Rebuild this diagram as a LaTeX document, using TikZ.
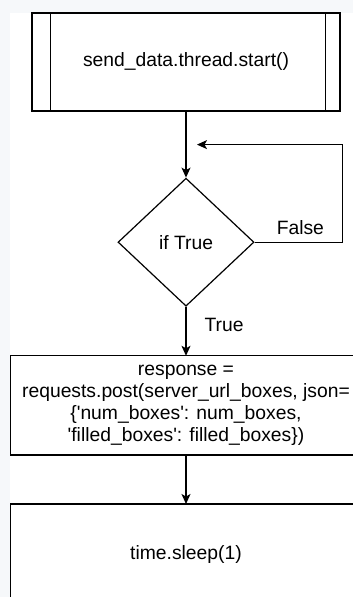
\documentclass[tikz,border=0pt]{standalone}
\usepackage{fontspec}
\setmainfont{Liberation Sans}[Ligatures=TeXOff]
\usetikzlibrary{shapes.geometric, arrows.meta, positioning}
\definecolor{pagebg}{RGB}{246,248,250}
\tikzstyle{subprocess} = [rectangle, minimum width=308pt, minimum height=98pt, text centered, draw=black, fill=white]
\tikzstyle{decision} = [diamond, aspect=1.06, minimum width=136pt, minimum height=128pt, inner sep=0pt, text centered, draw=black, fill=white]
\tikzstyle{process} = [rectangle, minimum width=349pt, minimum height=98pt, text centered, align=center, fill=white]
\tikzstyle{arrow} = [line width=1.2pt, -{Stealth[length=10pt, width=9pt, inset=2.5pt]}]
\tikzstyle{branch} = [inner sep=0pt]

\begin{document}
\begin{tikzpicture}[line width=1.2pt, font=\fontsize{19.3}{22}\selectfont]
	\useasboundingbox (-186pt,62pt) rectangle (167pt,-535pt);
	\fill [pagebg] (-190pt,66pt) rectangle (200pt,-540pt);
	\fill [white] (-176pt,49pt) rectangle (200pt,-540pt);
	\node (start) [subprocess] {send\_data.thread.start()};
	\draw ([xshift=19pt]start.north west) -- ([xshift=19pt]start.south west);
	\draw ([xshift=-15pt]start.north east) -- ([xshift=-15pt]start.south east);
		\node (check) [decision, below=66pt of start] {if True};
		\node (post) [process, below=49pt of check] {response =\\
			requests.post(server\_url\_boxes, json=\\
			\{'num\_boxes': num\_boxes,\\
			'filled\_boxes': filled\_boxes\})};
		\node (sleep) [process, below=49pt of post, minimum height=100pt] {time.sleep(1)};
		\coordinate [below=33pt of start, xshift=11pt] (rejoin);
	% the two lower boxes run on past the right edge
	\draw ([xshift=40pt]post.north east) -- (post.north west) -- (post.south west) -- ([xshift=40pt]post.south east);
	\draw ([xshift=40pt]sleep.north east) -- (sleep.north west) -- (sleep.south west) -- ([xshift=40pt]sleep.south east);
	\draw [arrow] (start) -- (check);
	\draw [arrow] (check) -- node[branch, right=18pt, pos=0.37] {True} (post);
	\draw [arrow] (check.east) -- node[branch, above=7pt, pos=0.52] {False} ++(88pt,0) |- (rejoin);
	\draw [arrow] (post) -- (sleep);
	\end{tikzpicture}
\end{document}
